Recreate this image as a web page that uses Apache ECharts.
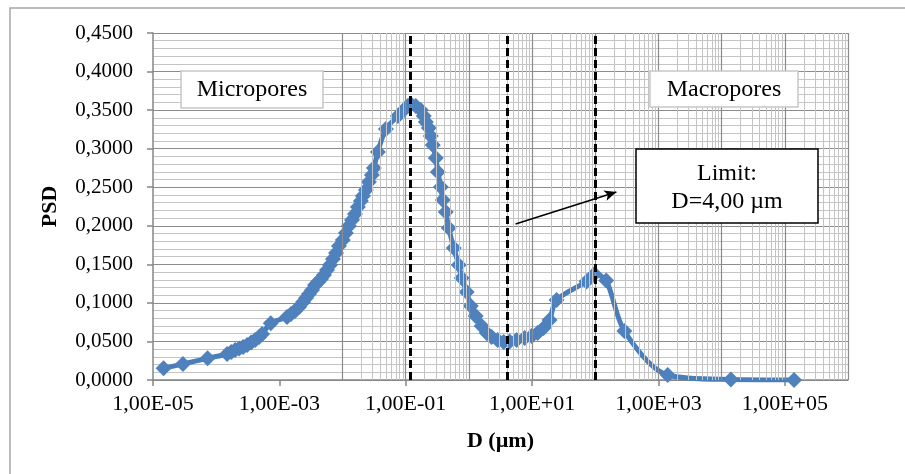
<!DOCTYPE html>
<html>
<head>
<meta charset="utf-8">
<title>PSD</title>
<script src="https://cdn.jsdelivr.net/npm/echarts@6/dist/echarts.min.js"></script>
<style>
  html, body { margin: 0; padding: 0; background: #ffffff; }
  #chart { width: 905px; height: 474px; }
</style>
</head>
<body>
<div id="chart"></div>
<script>
// Pore diameter D (µm) and pore size distribution values
const poreDiameter = [
  1.47e-5, 2.98e-5, 7.30e-5, 1.49e-4, 1.73e-4, 2.00e-4, 2.31e-4, 2.67e-4, 3.09e-4, 3.57e-4, 4.13e-4, 4.78e-4, 5.33e-4, 7.31e-4,
  1.32e-3, 1.53e-3, 1.77e-3, 2.05e-3, 2.37e-3, 2.64e-3, 2.94e-3, 3.29e-3, 3.67e-3, 4.09e-3, 4.56e-3, 5.08e-3, 5.67e-3, 6.33e-3, 7.05e-3, 7.87e-3, 8.77e-3,
  1.01e-2, 1.13e-2, 1.26e-2, 1.41e-2, 1.57e-2, 1.75e-2, 1.95e-2, 2.10e-2, 2.34e-2, 2.61e-2, 2.91e-2, 3.13e-2, 3.62e-2, 4.85e-2, 7.50e-2, 9.00e-2,
  0.108, 0.120, 0.144, 0.173, 0.193, 0.208, 0.232, 0.249, 0.268, 0.299, 0.322, 0.359, 0.386, 0.430, 0.480, 0.575, 0.690, 0.769, 0.923,
  1.07, 1.28, 1.59, 1.91, 2.29, 2.85, 3.55, 4.41, 5.69, 7.62, 9.83, 12.2, 15.2, 18.9, 24.4, 72.6, 97.1, 149, 289, 1400, 14000, 140000
];
const psdValues = [
  0.0152, 0.0207, 0.0281, 0.0337, 0.0363, 0.0389, 0.0408, 0.0428, 0.0454, 0.0486, 0.0519, 0.0558, 0.0597, 0.0735,
  0.0817, 0.0856, 0.0895, 0.0947, 0.1011, 0.1063, 0.1115, 0.1167, 0.1232, 0.1271, 0.1310, 0.1362, 0.1426, 0.1491, 0.1569, 0.1647, 0.1738,
  0.1816, 0.1906, 0.1997, 0.2075, 0.2153, 0.2243, 0.2321, 0.2386, 0.2464, 0.2568, 0.2658, 0.2749, 0.2957, 0.3255, 0.3423, 0.3488,
  0.3553, 0.3579, 0.3553, 0.3501, 0.3423, 0.3346, 0.3268, 0.3164, 0.3047, 0.2879, 0.2697, 0.2503, 0.2334, 0.2179, 0.1971, 0.1712, 0.1491, 0.1323, 0.1141,
  0.0960, 0.0830, 0.0700, 0.0609, 0.0558, 0.0519, 0.0493, 0.0499, 0.0519, 0.0545, 0.0571, 0.0609, 0.0674, 0.0778, 0.1037, 0.1277, 0.1375, 0.1290, 0.0635, 0.0065, 0.0006, 0.0
];

// Axis ranges and ticks
const xDecadeMin = -5;
const xDecadeMax = 6;
const xLabelDecades = [-5, -3, -1, 1, 3, 5];
const yMin = 0, yMax = 0.45, yStep = 0.05;

// Vertical reference lines (µm): micropore peak, limit, macropore peak
const referenceLines = [0.12, 4, 100];
// Arrow pointing from the limit line to its note: [D, PSD] start and end
const arrowStart = [5.48, 0.2023];
const arrowEnd = [216, 0.2438];

const FONT = 'Liberation Serif';

// Log-scale grid lines: one strong line per decade, light lines at 2..9
const majorGrid = [];
const minorGrid = [];
for (let d = xDecadeMin; d < xDecadeMax; d++) {
  if (d > xDecadeMin) majorGrid.push({ xAxis: Math.pow(10, d) });
  for (let k = 2; k <= 9; k++) minorGrid.push({ xAxis: k * Math.pow(10, d) });
}
majorGrid.push({ xAxis: Math.pow(10, xDecadeMax) });

function sciLabel(v) {
  const e = Math.round(Math.log10(v));
  if (xLabelDecades.indexOf(e) < 0) return '';
  const a = Math.abs(e);
  return '1,00E' + (e < 0 ? '-' : '+') + (a < 10 ? '0' : '') + a;
}

const points = poreDiameter.map((d, i) => [d, psdValues[i]]);

const chart = echarts.init(document.getElementById('chart'), null, { renderer: 'canvas' });

const boxFont = '24px "Liberation Serif"';

chart.setOption({
  animation: false,
  backgroundColor: '#ffffff',
  textStyle: { fontFamily: FONT },
  grid: { left: 153, right: 57, top: 33, bottom: 94, containLabel: false },
  xAxis: {
    type: 'log',
    logBase: 10,
    min: Math.pow(10, xDecadeMin),
    max: Math.pow(10, xDecadeMax),
    interval: 2,
    name: 'D (µm)',
    nameLocation: 'middle',
    nameGap: 50,
    nameTextStyle: { fontFamily: FONT, fontSize: 22, fontWeight: 'bold', color: '#000' },
    axisLine: { show: true, lineStyle: { color: '#868686', width: 1.5 } },
    axisTick: { show: true, length: 6, inside: false, lineStyle: { color: '#868686', width: 1.5 } },
    axisLabel: { formatter: sciLabel, fontFamily: FONT, fontSize: 22, color: '#000', margin: 13, showMinLabel: true, showMaxLabel: false },
    splitLine: { show: false },
    minorTick: { show: false },
    minorSplitLine: { show: false }
  },
  yAxis: {
    type: 'value',
    min: yMin,
    max: yMax,
    interval: yStep,
    name: 'PSD',
    nameLocation: 'middle',
    nameGap: 92,
    nameTextStyle: { fontFamily: FONT, fontSize: 22, fontWeight: 'bold', color: '#000' },
    axisLine: { show: true, lineStyle: { color: '#868686', width: 1.5 } },
    axisTick: { show: true, length: 6, inside: false, lineStyle: { color: '#868686', width: 1.5 } },
    axisLabel: {
      formatter: v => v.toFixed(4).replace('.', ','),
      fontFamily: FONT, fontSize: 21, color: '#000', margin: 20
    },
    splitLine: { show: true, lineStyle: { color: '#8c8c8c', width: 1.2 } },
    minorTick: { show: false, splitNumber: 5 },
    minorSplitLine: { show: true, lineStyle: { color: '#c4c4c4', width: 1 } }
  },
  series: [
    {
      name: 'minor grid',
      type: 'line',
      data: [],
      silent: true,
      z: 1,
      markLine: {
        silent: true,
        symbol: 'none',
        label: { show: false },
        lineStyle: { color: '#c4c4c4', width: 1, type: 'solid' },
        data: minorGrid
      }
    },
    {
      name: 'major grid',
      type: 'line',
      data: [],
      silent: true,
      z: 1,
      markLine: {
        silent: true,
        symbol: 'none',
        label: { show: false },
        lineStyle: { color: '#8c8c8c', width: 1.2, type: 'solid' },
        data: majorGrid
      }
    },
    {
      name: 'PSD',
      type: 'line',
      data: points,
      smooth: 0.3,
      z: 3,
      symbol: 'diamond',
      symbolSize: 16,
      lineStyle: { color: '#4a7ebb', width: 5 },
      itemStyle: { color: '#4f81bd', borderWidth: 0 }
    },
    {
      name: 'limits',
      type: 'line',
      data: [],
      silent: true,
      z: 4,
      markLine: {
        silent: true,
        symbol: 'none',
        label: { show: false },
        lineStyle: { color: '#000000', width: 3, type: [8, 4] },
        data: referenceLines.map(v => ({ xAxis: v })).concat([
          [
            { coord: arrowStart, symbol: 'none', lineStyle: { type: 'solid', width: 1.5, color: '#000' } },
            { coord: arrowEnd, symbol: 'arrow', symbolSize: [8, 12] }
          ]
        ])
      }
    }
  ],
  graphic: [
    {
      type: 'rect', z: 0, silent: true,
      shape: { x: 10, y: 8, width: 905, height: 480 },
      style: { fill: 'none', stroke: '#a6a6a6', lineWidth: 1.5 }
    },
    { type: 'rect', z: 100, silent: true, shape: { x: 181, y: 71, width: 142, height: 37 }, style: { fill: '#fff', stroke: '#c8c8c8', lineWidth: 1.5 } },
    { type: 'text', z: 101, silent: true, x: 252, y: 90, style: { text: 'Micropores', font: boxFont, fill: '#000', align: 'center', verticalAlign: 'middle' } },
    { type: 'rect', z: 100, silent: true, shape: { x: 650, y: 71, width: 148, height: 36 }, style: { fill: '#fff', stroke: '#c8c8c8', lineWidth: 1.5 } },
    { type: 'text', z: 101, silent: true, x: 724, y: 90, style: { text: 'Macropores', font: boxFont, fill: '#000', align: 'center', verticalAlign: 'middle' } },
    { type: 'rect', z: 100, silent: true, shape: { x: 636, y: 149, width: 182, height: 74 }, style: { fill: '#fff', stroke: '#000', lineWidth: 1.5 } },
    { type: 'text', z: 101, silent: true, x: 727, y: 174, style: { text: 'Limit:', font: boxFont, fill: '#000', align: 'center', verticalAlign: 'middle' } },
    { type: 'text', z: 101, silent: true, x: 727, y: 202, style: { text: 'D=4,00 µm', font: boxFont, fill: '#000', align: 'center', verticalAlign: 'middle' } }
  ]
});
</script>
</body>
</html>
